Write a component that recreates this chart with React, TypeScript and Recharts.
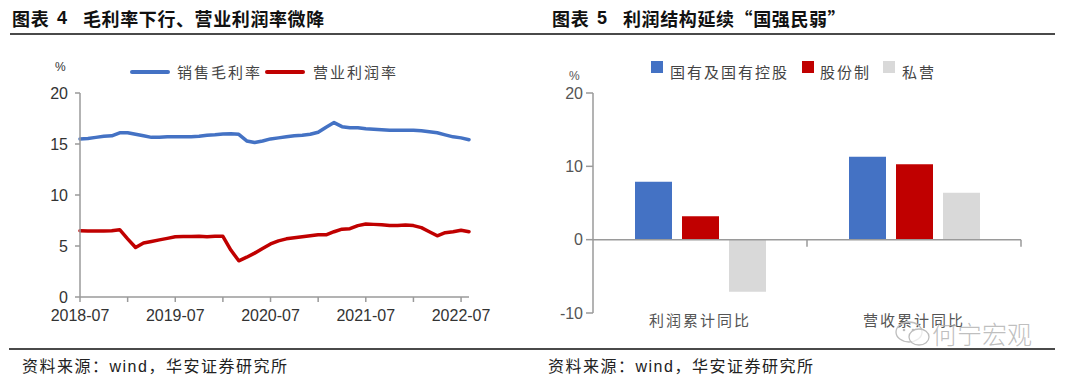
import React from 'react';
import { LineChart, Line, XAxis, YAxis, BarChart, Bar, ReferenceLine } from 'recharts';

// ---------- Left chart data ----------
const months = [
  '2018-07', '2018-08', '2018-09', '2018-10', '2018-11', '2018-12',
  '2019-01', '2019-02', '2019-03', '2019-04', '2019-05', '2019-06',
  '2019-07', '2019-08', '2019-09', '2019-10', '2019-11', '2019-12',
  '2020-01', '2020-02', '2020-03', '2020-04', '2020-05', '2020-06',
  '2020-07', '2020-08', '2020-09', '2020-10', '2020-11', '2020-12',
  '2021-01', '2021-02', '2021-03', '2021-04', '2021-05', '2021-06',
  '2021-07', '2021-08', '2021-09', '2021-10', '2021-11', '2021-12',
  '2022-01', '2022-02', '2022-03', '2022-04', '2022-05', '2022-06',
  '2022-07', '2022-08',
];
const grossMargin = [
  15.5, 15.55, 15.65, 15.75, 15.8, 16.1, 16.1, 15.95, 15.8, 15.65,
  15.65, 15.7, 15.72, 15.7, 15.7, 15.75, 15.85, 15.9, 15.98, 16.0,
  15.95, 15.3, 15.15, 15.3, 15.5, 15.6, 15.7, 15.8, 15.85, 15.95,
  16.15, 16.65, 17.1, 16.7, 16.6, 16.6, 16.5, 16.45, 16.4, 16.35,
  16.35, 16.35, 16.35, 16.3, 16.2, 16.1, 15.9, 15.7, 15.6, 15.42,
];
const operatingMargin = [
  6.5, 6.48, 6.48, 6.48, 6.5, 6.6, 5.7, 4.85, 5.3, 5.45,
  5.6, 5.75, 5.9, 5.92, 5.92, 5.95, 5.9, 5.95, 5.95, 4.6,
  3.55, 3.9, 4.3, 4.75, 5.2, 5.5, 5.7, 5.8, 5.9, 6.0,
  6.1, 6.1, 6.4, 6.65, 6.7, 7.0, 7.15, 7.12, 7.08, 7.0,
  7.0, 7.05, 7.0, 6.8, 6.4, 6.0, 6.3, 6.4, 6.55, 6.4,
];
const leftYTicks = [0, 5, 10, 15, 20];
const leftSeriesNames = ['销售毛利率', '营业利润率'];

// ---------- Right chart data ----------
const barCategories = ['利润累计同比', '营收累计同比'];
const stateOwned = [7.9, 11.3];
const shareholding = [3.2, 10.3];
const privateOwned = [-7.1, 6.4];
const rightYTicks = [-10, 0, 10, 20];
const barSeriesNames = ['国有及国有控股', '股份制', '私营'];

const BLUE = '#4472c4';
const RED = '#c00000';
const GRAY = '#d9d9d9';
const AXIS = '#9a9a9a';
const NUM_FONT = "'Liberation Sans', Arial, 'Noto Sans CJK SC', sans-serif";
const CJK_FONT = "'Liberation Sans', 'Noto Sans CJK SC', sans-serif";
const CJK_FIRST = "'Noto Sans CJK SC', sans-serif";

const lineData = months.map((m, i) => ({
  month: m,
  gross: grossMargin[i],
  op: operatingMargin[i],
}));

const barData = barCategories.map((name, i) => ({
  name,
  soe: stateOwned[i],
  share: shareholding[i],
  priv: privateOwned[i],
}));

const ZeroAxis = (props: any) => {
  const { x1, y1, x2, y2 } = props;
  const n = barCategories.length;
  const marks = [] as any[];
  for (let k = 1; k <= n; k++) {
    const x = x1 + ((x2 - x1) * k) / n;
    marks.push(<line key={k} x1={x} x2={x} y1={y1} y2={y1 + 7} stroke={AXIS} strokeWidth={1.5} />);
  }
  return (
    <g>
      <line x1={x1} y1={y1} x2={x2} y2={y2} stroke={AXIS} strokeWidth={1.5} />
      {marks}
    </g>
  );
};

const abs = (left: number, top: number, extra: any = {}): any => ({
  position: 'absolute',
  left,
  top,
  whiteSpace: 'nowrap',
  ...extra,
});

const Title = ({ left, num, text }: { left: number; num: string; text: string }) => (
  <>
    <div style={abs(left, 7, { fontFamily: CJK_FIRST, fontWeight: 700, fontSize: 18, lineHeight: '22px', letterSpacing: 0.8, color: '#111' })}>图表</div>
    <div style={abs(left + 45, 7, { fontFamily: NUM_FONT, fontWeight: 700, fontSize: 18, lineHeight: '22px', color: '#111' })}>{num}</div>
    <div style={abs(left + 71, 7, { fontFamily: CJK_FIRST, fontWeight: 700, fontSize: 18, lineHeight: '22px', letterSpacing: 0.6, color: '#111' })}>{text}</div>
  </>
);

const legendText = (left: number, text: string) => (
  <div style={abs(left, 62, { fontFamily: CJK_FIRST, fontSize: 15, lineHeight: '20px', letterSpacing: 2, color: '#444' })}>{text}</div>
);

export default function App() {
  return (
    <div style={{ position: 'absolute', left: 0, top: 0, width: 1080, height: 379, background: '#fff', overflow: 'hidden' }}>
      {/* Titles */}
      <Title left={12} num="4" text="毛利率下行、营业利润率微降" />
      <Title left={552} num="5" text="利润结构延续“国强民弱”" />
      <div style={abs(10, 33, { width: 1045, height: 2, background: '#4a4a4a' })} />

      {/* Left chart */}
      <div style={abs(0, 0)}>
        <LineChart width={540} height={379} data={lineData} margin={{ top: 93, right: 71, bottom: 52, left: 0 }}>
          <XAxis
            dataKey="month"
            interval={5}
            tickSize={5}
            tickMargin={8}
            height={30}
            stroke={AXIS}
            strokeWidth={1.5}
            tick={{ fill: '#333', fontSize: 16, fontFamily: NUM_FONT }}
            tickFormatter={(v: string) => (v.endsWith('-07') ? v : '')}
          />
          <YAxis
            domain={[0, 20]}
            ticks={leftYTicks}
            width={80}
            tickSize={5}
            tickMargin={7}
            stroke={AXIS}
            strokeWidth={1.5}
            tick={{ fill: '#333', fontSize: 16, fontFamily: NUM_FONT }}
          />
          <Line type="linear" dataKey="gross" name={leftSeriesNames[0]} stroke={BLUE} strokeWidth={3.5} dot={false} strokeLinejoin="round" strokeLinecap="round" isAnimationActive={false} />
          <Line type="linear" dataKey="op" name={leftSeriesNames[1]} stroke={RED} strokeWidth={3.5} dot={false} strokeLinejoin="round" strokeLinecap="round" isAnimationActive={false} />
        </LineChart>
      </div>
      <div style={abs(55, 60, { fontFamily: NUM_FONT, fontSize: 12, color: '#333' })}>%</div>
      <div style={abs(130, 70, { width: 40, height: 4, borderRadius: 2, background: BLUE })} />
      {legendText(177, leftSeriesNames[0])}
      <div style={abs(265, 70, { width: 40, height: 4, borderRadius: 2, background: RED })} />
      {legendText(313, leftSeriesNames[1])}

      {/* Right chart */}
      <div style={abs(540, 0)}>
        <BarChart width={540} height={379} data={barData} margin={{ top: 93, right: 59, bottom: 36, left: 0 }} barSize={37} barGap={10}>
          <XAxis
            dataKey="name"
            axisLine={false}
            tickLine={false}
            tickSize={0}
            tickMargin={2}
            height={30}
            tick={{ fill: '#555', fontSize: 15, fontFamily: CJK_FIRST, letterSpacing: 2 }}
          />
          <YAxis
            domain={[-10, 20]}
            ticks={rightYTicks}
            width={53}
            tickSize={7}
            tickMargin={3}
            stroke={AXIS}
            strokeWidth={1.5}
            tick={{ fill: '#555', fontSize: 16, fontFamily: NUM_FONT }}
          />
          <Bar dataKey="soe" name={barSeriesNames[0]} fill={BLUE} isAnimationActive={false} />
          <Bar dataKey="share" name={barSeriesNames[1]} fill={RED} isAnimationActive={false} />
          <Bar dataKey="priv" name={barSeriesNames[2]} fill={GRAY} isAnimationActive={false} />
          <ReferenceLine y={0} shape={ZeroAxis} />
        </BarChart>
      </div>
      <div style={abs(569, 69, { fontFamily: NUM_FONT, fontSize: 12, color: '#555' })}>%</div>
      <div style={abs(651, 61, { width: 12, height: 12, background: BLUE })} />
      {legendText(670, barSeriesNames[0])}
      <div style={abs(802, 61, { width: 12, height: 12, background: RED })} />
      {legendText(820, barSeriesNames[1])}
      <div style={abs(883, 61, { width: 12, height: 12, background: GRAY })} />
      {legendText(902, barSeriesNames[2])}

      {/* Watermark */}
      <svg style={abs(894, 320)} width={38} height={28}>
        <ellipse cx={15} cy={12} rx={13} ry={10} fill="none" stroke="#bdbdbd" strokeWidth={1.3} />
        <ellipse cx={25} cy={17} rx={10} ry={8} fill="rgba(255,255,255,0.7)" stroke="#bdbdbd" strokeWidth={1.3} />
        <circle cx={10} cy={10} r={1.3} fill="#bdbdbd" />
        <circle cx={19} cy={10} r={1.3} fill="#bdbdbd" />
      </svg>
      <div style={abs(932, 320, { fontFamily: CJK_FIRST, fontSize: 25, lineHeight: '26px', fontWeight: 300, color: 'rgba(170,170,170,0.75)' })}>何宁宏观</div>

      {/* Bottom rule + sources */}
      <div style={abs(9, 348, { width: 1046, height: 2, background: '#4a4a4a' })} />
      <div style={abs(22, 356, { fontFamily: CJK_FONT, fontSize: 16, lineHeight: '22px', letterSpacing: 1.5, color: '#222' })}>资料来源：wind，华安证券研究所</div>
      <div style={abs(548, 356, { fontFamily: CJK_FONT, fontSize: 16, lineHeight: '22px', letterSpacing: 1.5, color: '#222' })}>资料来源：wind，华安证券研究所</div>
    </div>
  );
}
